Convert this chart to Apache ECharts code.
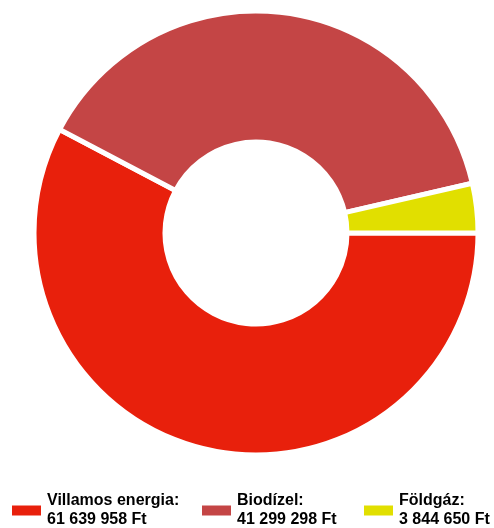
<!DOCTYPE html>
<html>
<head>
<meta charset="utf-8">
<script src="https://cdn.jsdelivr.net/npm/echarts@6/dist/echarts.min.js"></script>
<style>
  html, body { margin: 0; padding: 0; background: #fff; }
  #chart { width: 494px; height: 528px; }
</style>
</head>
<body>
<div id="chart"></div>
<script>
  var names = ['Villamos energia', 'Biodízel', 'Földgáz'];
  var values = [61639958, 41299298, 3844650];
  var valueLabels = ['61 639 958 Ft', '41 299 298 Ft', '3 844 650 Ft'];
  var colors = ['#e8200c', '#c44545', '#e1df00'];
  var legendLeft = [10, 200, 362];

  var myChart = echarts.init(document.getElementById('chart'));

  var legends = names.map(function (n, i) {
    return {
      data: [n],
      left: legendLeft[i],
      top: 493,
      padding: 0,
      orient: 'horizontal',
      itemWidth: 31,
      itemHeight: 12,
      itemGap: 8,
      icon: 'rect',
      selectedMode: false,
      formatter: function () {
        return '{a|' + names[i] + ':}\n{a|' + valueLabels[i] + '}';
      },
      textStyle: {
        fontFamily: 'Liberation Sans, Arial, sans-serif',
        fontWeight: 'bold',
        fontSize: 16,
        color: '#000',
        rich: {
          a: {
            fontFamily: 'Liberation Sans, Arial, sans-serif',
            fontWeight: 'bold',
            fontSize: 16,
            lineHeight: 19,
            color: '#000'
          }
        }
      }
    };
  });

  myChart.setOption({
    animation: false,
    color: colors,
    legend: legends,
    series: [{
      type: 'pie',
      center: [256, 233],
      radius: [91, 222],
      startAngle: 0,
      clockwise: true,
      silent: true,
      label: { show: false },
      labelLine: { show: false },
      itemStyle: {
        borderColor: '#fff',
        borderWidth: 5
      },
      data: names.map(function (n, i) {
        return { name: n, value: values[i] };
      })
    }]
  });
</script>
</body>
</html>
